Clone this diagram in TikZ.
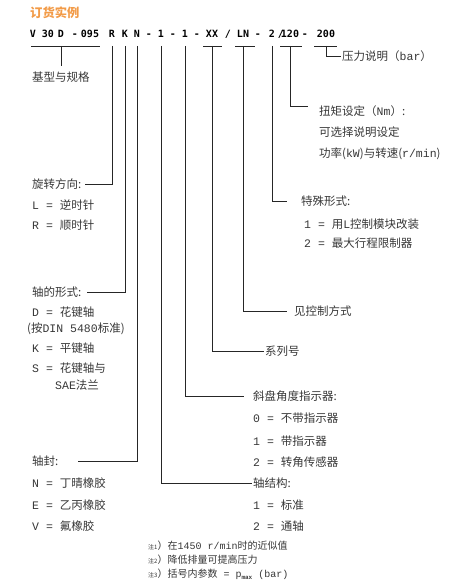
\documentclass[tikz,border=0pt]{standalone}
\usepackage{fontspec}
\setmainfont{Noto Sans CJK SC}
\newfontfamily\codefont{DejaVu Sans Mono}
\newfontfamily\latfont{Liberation Mono}
\usetikzlibrary{positioning}
\definecolor{titleorange}{RGB}{242,155,72}
\definecolor{txtgray}{RGB}{55,55,55}
\newcommand{\lt}[1]{{\latfont #1}}

\begin{document}
\begin{tikzpicture}[x=1pt, y=-1pt, every node/.style={font=\fontsize{11.5}{13}\selectfont, text=txtgray, inner sep=1pt}]
\tikzset{code/.style={font=\codefont\bfseries\fontsize{10}{12}\selectfont, text=black, inner sep=0pt, anchor=base}}
\tikzset{lbl/.style={anchor=west}}
\tikzset{lead/.style={draw=black!85, line width=0.8pt}}
\tikzset{note/.style={anchor=west, font=\fontsize{10}{12}\selectfont}}
\useasboundingbox (0,0) rectangle (462,583);

% title and order code
\node[lbl, font=\bfseries\fontsize{12.3}{14}\selectfont, text=titleorange] (title) at (29,13) {订货实例};
\foreach \x/\t/\n in {33/V/cV, 48/30/c30, 61/D/cD, 75/-/m1, 90/095/c095, 112/R/cR, 125/K/cK, 137/N/cN,
  149/-/m2, 161/1/cA, 173/-/m3, 185/1/cB, 197/-/m4, 212/XX/cXX, 228/{/}/sl1, 243/LN/cLN, 258/-/m5,
  272/2/cS, 281/{/}/sl2, 290/120/cT, 305/-/m6, 326/200/cP}
  \node[code] (\n) at (\x,38) {\t};
\coordinate (ul) at (0,46);
\draw[lead] (31,46) -- (100,46);
\draw[lead] (203,46) -- (222,46);
\draw[lead] (235,46) -- (255,46);
\draw[lead] (280,46) -- (302,46);
\draw[lead] (314,46) -- (337,46);

% left side
\node[lbl] (base) at (31,77) {基型与规格};
\node[lbl] (rot) at (31,184) {旋转方向:};
\node[lbl] (rotL) at (31,205) {\lt{L = }逆时针};
\node[lbl] (rotR) at (31,225) {\lt{R = }顺时针};
\node[lbl] (shaft) at (31,292) {轴的形式:};
\node[lbl] (shD) at (31,312) {\lt{D = }花键轴};
\node[lbl] (shDin) at (26,329) {(按\lt{DIN 5480}标准)};
\node[lbl] (shK) at (31,348) {\lt{K = }平键轴};
\node[lbl] (shS) at (31,368) {\lt{S = }花键轴与};
\node[lbl] (shSae) at (54,385) {\lt{SAE}法兰};
\node[lbl] (seal) at (31,461) {轴封:};
\node[lbl] (seN) at (31,483) {\lt{N = }丁晴橡胶};
\node[lbl] (seE) at (31,505) {\lt{E = }乙丙橡胶};
\node[lbl] (seV) at (31,526) {\lt{V = }氟橡胶};

% right side
\node[lbl] (press) at (341,56) {压力说明（\lt{bar}）};
\node[lbl] (torq) at (318,111) {扭矩设定（\lt{Nm}）:};
\node[lbl] (torq2) at (318,132) {可选择说明设定};
\node[lbl] (torq3) at (318,154) {功率(\lt{kW})与转速(\lt{r/min})};
\node[lbl] (spec) at (300,201) {特殊形式:};
\node[lbl] (spec1) at (303,224) {\lt{1 = }用\lt{L}控制模块改装};
\node[lbl] (spec2) at (303,243) {\lt{2 = }最大行程限制器};
\node[lbl] (ctrl) at (293,311) {见控制方式};
\node[lbl] (ser) at (264,351) {系列号};
\node[lbl] (swash) at (252,396) {斜盘角度指示器:};
\node[lbl] (sw0) at (252,418) {\lt{0  = }不带指示器};
\node[lbl] (sw1) at (252,441) {\lt{1  = }带指示器};
\node[lbl] (sw2) at (252,462) {\lt{2  = }转角传感器};
\node[lbl] (axis) at (252,483) {轴结构:};
\node[lbl] (ax1) at (252,505) {\lt{1  = }标准};
\node[lbl] (ax2) at (252,526) {\lt{2  = }通轴};

% notes
\node[note] (n1) at (147,546) {{\fontsize{6}{7}\selectfont 注1}）在\lt{1450 r/min}时的近似值};
\node[note] (n2) at (147,560) {{\fontsize{6}{7}\selectfont 注2}）降低排量可提高压力};
\node[note] (n3) at (147,574) {{\fontsize{6}{7}\selectfont 注3}）括号内参数\lt{ = p}\raisebox{-2pt}{\latfont\bfseries\fontsize{6}{7}\selectfont max}\lt{ (bar)}};

% leaders
\draw[lead] (cD |- ul) -- ++(0,20);
\draw[lead] (cR |- ul) |- ([xshift=2pt]rot.east);
\draw[lead] (cK |- ul) |- ([xshift=4pt]shaft.east);
\draw[lead] (cN |- ul) |- ([xshift=18pt]seal.east);
\draw[lead] (cA |- ul) |- (axis.west);
\draw[lead] (cB |- ul) |- ([xshift=-8pt]swash.west);
\draw[lead] (cXX |- ul) |- (ser.west);
\draw[lead] (cLN |- ul) |- ([xshift=-6pt]ctrl.west);
\draw[lead] (cS |- ul) |- ([xshift=-13pt]spec.west);
\draw[lead] (cT |- ul) -- ++(0,60) -- ++(18,0);
\draw[lead] (cP |- ul) |- (press.west);
\end{tikzpicture}
\end{document}
